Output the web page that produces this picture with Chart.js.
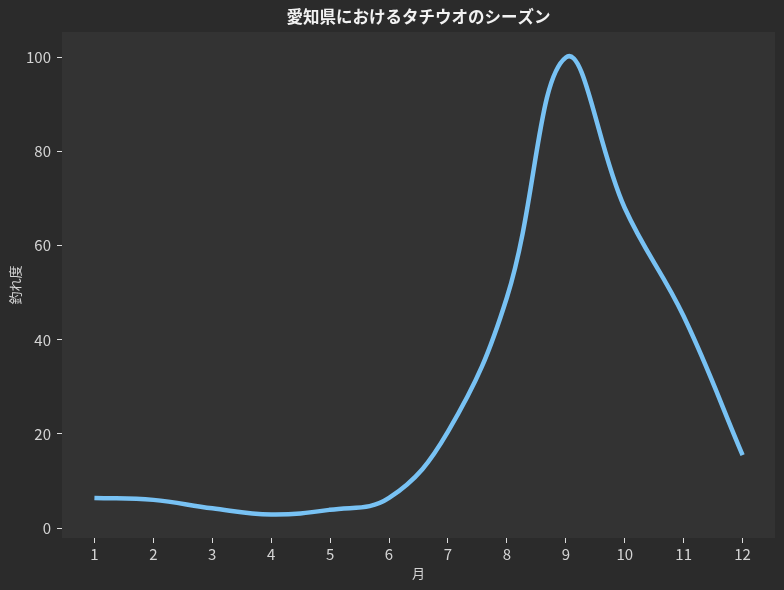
<!DOCTYPE html>
<html>
<head>
<meta charset="utf-8">
<script src="https://cdn.jsdelivr.net/npm/chart.js@4.4.1/dist/chart.umd.min.js"></script>
<style>
  html, body { margin: 0; padding: 0; background: #2b2b2b; }
  #wrap { width: 784px; height: 590px; }
</style>
</head>
<body>
<div id="wrap"><canvas id="c" width="784" height="590"></canvas></div>
<script>
const chartTitle = "愛知県におけるタチウオのシーズン";
const xTitle = "月";
const yTitle = "釣れ度";
const months = [1, 2, 3, 4, 5, 6, 7, 8, 9, 10, 11, 12];
const catchLevel = [6.4, 6.0, 4.2, 2.9, 3.9, 6.4, 20.5, 49, 100, 68, 45, 15.5];
const yTicks = [0, 20, 40, 60, 80, 100];

const tickFont = "'Noto Sans CJK JP', sans-serif";
const cjkFont = "'Noto Sans CJK JP', sans-serif";

const bgPlugin = {
  id: 'bgPlugin',
  beforeDraw(chart) {
    const {ctx, chartArea: a} = chart;
    ctx.save();
    ctx.fillStyle = '#2b2b2b';
    ctx.fillRect(0, 0, chart.width, chart.height);
    ctx.fillStyle = '#333333';
    ctx.fillRect(a.left, a.top, a.right - a.left, a.bottom - a.top);
    ctx.restore();
  },
  afterDraw(chart) {
    const {ctx, chartArea: a} = chart;
    ctx.save();
    ctx.fillStyle = '#f2f2f2';
    ctx.font = "bold 16.5px " + cjkFont;
    ctx.textAlign = 'center';
    ctx.textBaseline = 'middle';
    ctx.fillText(chartTitle, (a.left + a.right) / 2, 17);
    ctx.restore();
  }
};

new Chart(document.getElementById('c'), {
  type: 'line',
  data: {
    datasets: [{
      data: months.map((m, i) => ({x: m, y: catchLevel[i]})),
      borderColor: '#78c2f4',
      borderWidth: 4.5,
      pointRadius: 0,
      tension: 0.4,
      fill: false,
      borderCapStyle: 'butt'
    }]
  },
  options: {
    responsive: false,
    animation: false,
    devicePixelRatio: 1,
    layout: { padding: { left: 0, right: 9, top: 32, bottom: 0 } },
    plugins: { legend: { display: false }, title: { display: false }, tooltip: { enabled: false } },
    scales: {
      x: {
        type: 'linear',
        min: 0.45,
        max: 12.55,
        afterBuildTicks(s) { s.ticks = months.map(v => ({value: v})); },
        afterFit(s) { s.height = 52; },
        grid: { display: true, drawOnChartArea: false, drawTicks: true, tickLength: 5, color: '#dddddd', tickWidth: 1 },
        border: { display: false },
        ticks: { color: '#d4d4d4', font: { family: tickFont, size: 15 }, padding: 2, maxRotation: 0, autoSkip: false },
        title: { display: true, text: xTitle, color: '#d4d4d4', font: { family: cjkFont, size: 13 }, padding: { top: 0, bottom: 9 } }
      },
      y: {
        type: 'linear',
        min: -2.1,
        max: 105.4,
        afterBuildTicks(s) { s.ticks = yTicks.map(v => ({value: v})); },
        afterFit(s) { s.width = 62; },
        grid: { display: true, drawOnChartArea: false, drawTicks: true, tickLength: 5, color: '#dddddd', tickWidth: 1 },
        border: { display: false },
        ticks: { color: '#d4d4d4', font: { family: tickFont, size: 15 }, padding: 6 },
        title: { display: true, text: yTitle, color: '#d4d4d4', font: { family: cjkFont, size: 13 }, padding: { top: 7, bottom: 0 } }
      }
    }
  },
  plugins: [bgPlugin]
});
</script>
</body>
</html>
